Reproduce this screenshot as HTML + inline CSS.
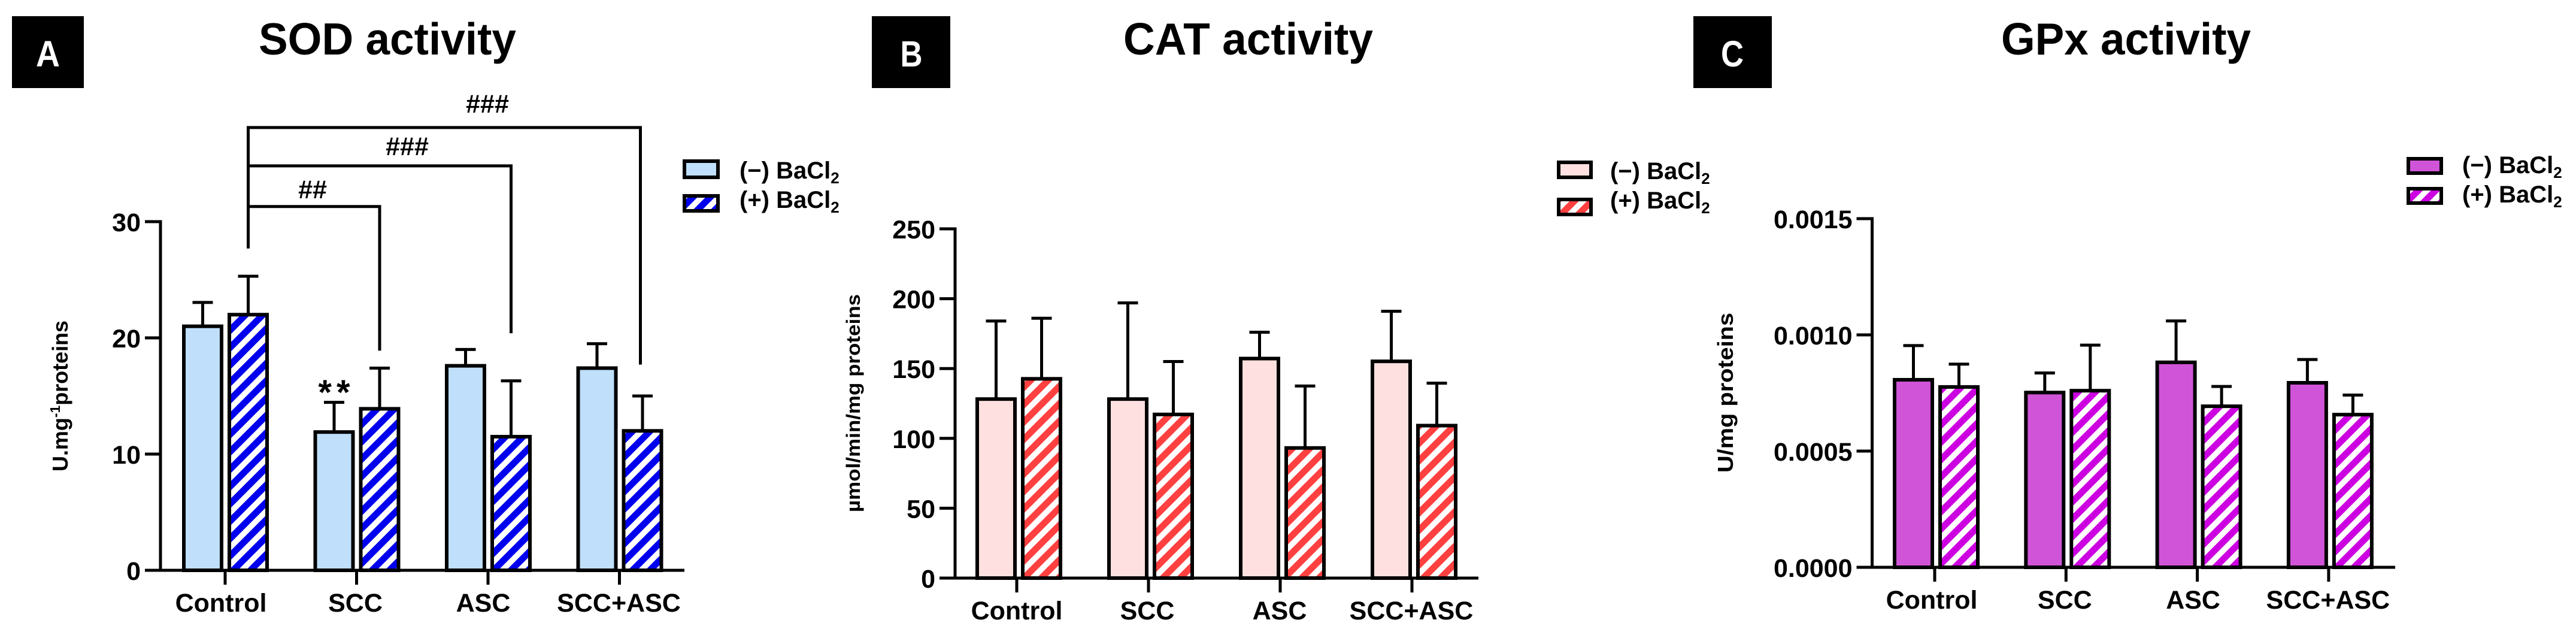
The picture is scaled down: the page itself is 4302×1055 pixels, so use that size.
<!DOCTYPE html>
<html lang="en">
<head>
<meta charset="utf-8">
<title>SOD, CAT and GPx activity</title>
<style>
html,body{margin:0;padding:0;background:#fff;}
svg{display:block;}
text{font-family:"Liberation Sans",Arial,sans-serif;font-weight:700;fill:#000;}
</style>
</head>
<body>
<svg id="figure" xmlns="http://www.w3.org/2000/svg" width="4302" height="1055" viewBox="0 0 4302 1055">
  <defs>
    <pattern id="hatch-blue" patternUnits="userSpaceOnUse" width="20.5" height="20.5" patternTransform="rotate(45)">
      <rect width="20.5" height="20.5" fill="#fff"/><rect width="11" height="20.5" fill="#0000EE"/>
    </pattern>
    <pattern id="hatch-red" patternUnits="userSpaceOnUse" width="20.5" height="20.5" patternTransform="rotate(45)">
      <rect width="20.5" height="20.5" fill="#fff"/><rect width="11" height="20.5" fill="#FF4040"/>
    </pattern>
    <pattern id="hatch-purple" patternUnits="userSpaceOnUse" width="20.5" height="20.5" patternTransform="rotate(45)">
      <rect width="20.5" height="20.5" fill="#fff"/><rect width="11" height="20.5" fill="#CC00E0"/>
    </pattern>
  </defs>

  <rect x="20" y="27" width="120" height="120" fill="#000"/>
  <text x="80" y="111" font-size="61" text-anchor="middle" style="fill:#fff" textLength="40" lengthAdjust="spacingAndGlyphs">A</text>
  <text x="432" y="91" font-size="75" textLength="430" lengthAdjust="spacingAndGlyphs">SOD activity</text>
  <text transform="translate(113,787) rotate(-90)" font-size="36" textLength="252" lengthAdjust="spacingAndGlyphs">U.mg<tspan font-size="23" dy="-13">-1</tspan><tspan dy="13">proteins</tspan></text>

  <rect x="1456" y="27" width="131" height="120" fill="#000"/>
  <text x="1522" y="111" font-size="61" text-anchor="middle" style="fill:#fff" textLength="37" lengthAdjust="spacingAndGlyphs">B</text>
  <text x="1876" y="91" font-size="75" textLength="417" lengthAdjust="spacingAndGlyphs">CAT activity</text>
  <text transform="translate(1436,855) rotate(-90)" font-size="32" textLength="364" lengthAdjust="spacingAndGlyphs">µmol/min/mg proteins</text>

  <rect x="2828" y="27" width="131" height="120" fill="#000"/>
  <text x="2893" y="111" font-size="61" text-anchor="middle" style="fill:#fff" textLength="38" lengthAdjust="spacingAndGlyphs">C</text>
  <text x="3342" y="91" font-size="75" textLength="417" lengthAdjust="spacingAndGlyphs">GPx activity</text>
  <text transform="translate(2894,789) rotate(-90)" font-size="36" textLength="267" lengthAdjust="spacingAndGlyphs">U/mg proteins</text>

  <g>
    <rect x="1143" y="269" width="56" height="27" fill="#BFDFFA" stroke="#000" stroke-width="6"/>
    <rect x="1143" y="327" width="56" height="25" fill="url(#hatch-blue)" stroke="#000" stroke-width="6"/>
    <text x="1235" y="298" font-size="40">(−) BaCl<tspan font-size="26" dy="8">2</tspan></text>
    <text x="1235" y="347" font-size="40">(+) BaCl<tspan font-size="26" dy="8">2</tspan></text>
  </g>
  <g>
    <rect x="2603" y="271" width="54" height="25" fill="#FFE0E0" stroke="#000" stroke-width="6"/>
    <rect x="2603" y="333" width="54" height="25" fill="url(#hatch-red)" stroke="#000" stroke-width="6"/>
    <text x="2689" y="299" font-size="40">(−) BaCl<tspan font-size="26" dy="8">2</tspan></text>
    <text x="2689" y="348" font-size="40">(+) BaCl<tspan font-size="26" dy="8">2</tspan></text>
  </g>
  <g>
    <rect x="4022" y="265" width="55" height="24" fill="#D054D8" stroke="#000" stroke-width="6"/>
    <rect x="4022" y="315" width="55" height="24" fill="url(#hatch-purple)" stroke="#000" stroke-width="6"/>
    <text x="4112" y="289" font-size="40">(−) BaCl<tspan font-size="26" dy="8">2</tspan></text>
    <text x="4112" y="338" font-size="40">(+) BaCl<tspan font-size="26" dy="8">2</tspan></text>
  </g>
</svg>
<script>
const categories = ['Control', 'SCC', 'ASC', 'SCC+ASC'];

const sodMinus = [21.1, 12.0, 17.7, 17.5];
const sodPlus = [22.1, 14.0, 11.6, 12.1];
const sodMinusErrTop = [23.05, 14.45, 19.0, 19.5];
const sodPlusErrTop = [25.3, 17.4, 16.3, 15.0];
const sodTicks = [0, 10, 20, 30];
const sodTickLabels = ['0', '10', '20', '30'];

const catMinus = [129, 129, 158, 156];
const catPlus = [143.5, 118, 94, 110];
const catMinusErrTop = [184, 197, 176, 191];
const catPlusErrTop = [186, 155, 137.5, 139.5];
const catTicks = [0, 50, 100, 150, 200, 250];
const catTickLabels = ['0', '50', '100', '150', '200', '250'];

const gpxMinus = [0.000812, 0.000757, 0.000887, 0.000799];
const gpxPlus = [0.000781, 0.000765, 0.000698, 0.000662];
const gpxMinusErrTop = [0.000954, 0.000836, 0.00106, 0.000894];
const gpxPlusErrTop = [0.000874, 0.000956, 0.000778, 0.000741];
const gpxTicks = [0, 0.0005, 0.001, 0.0015];
const gpxTickLabels = ['0.0000', '0.0005', '0.0010', '0.0015'];

const sodBracketTargets = [1, 2, 3];
const sodBracketLabels = ['##', '###', '###'];
const sodBracketLevels = [31.3, 34.8, 38.1];
const sodBracketEnds = [18.9, 20.4, 17.7];

const NS = 'http://www.w3.org/2000/svg';
const svg = document.getElementById('figure');

function make(tag, attrs, parent) {
  const el = document.createElementNS(NS, tag);
  for (const k in attrs) el.setAttribute(k, attrs[k]);
  parent.appendChild(el);
  return el;
}

function drawPanel(p) {
  const g = make('g', {}, svg);
  
  
  const yScale = v => p.base - v * (p.base - p.top) / p.max;
  p.yScale = yScale;

  categories.forEach((cat, i) => {
    const slug = cat.toLowerCase().replace('+', '-');
    const left = p.firstBar + i * p.pitch;
    [[p.minus, p.minusErr, p.light, 'minus', 0], [p.plus, p.plusErr, p.hatch, 'plus', p.barW + p.gap]].forEach(s => {
      const values = s[0], errs = s[1], fill = s[2], series = s[3], off = s[4];
      const x = left + off;
      const cx = x + p.barW / 2;
      const top = yScale(values[i]);
      const stem = make('line', { x1: cx, x2: cx, y1: top, y2: yScale(errs[i]), stroke: '#000', 'stroke-width': 5 }, g);
      
      
      const cap = make('line', { x1: cx - 17, x2: cx + 17, y1: yScale(errs[i]), y2: yScale(errs[i]), stroke: '#000', 'stroke-width': 5 }, g);
      
      
      const bar = make('rect', { x: x + 3, y: top + 2, width: p.barW - 6, height: Math.max(0, p.base - top - 2), fill: fill, stroke: '#000', 'stroke-width': 6 }, g);
      
      
    });
    const tx = p.firstTick + i * p.pitch;
    const tick = make('line', { x1: tx, x2: tx, y1: p.base, y2: p.base + 24, stroke: '#000', 'stroke-width': 5 }, g);
    
    
    const label = make('text', { x: tx + p.labelNudge[i], y: p.base + 69, 'font-size': 43, 'text-anchor': 'middle' }, g);
    
    
    label.textContent = cat;
  });

  const yAxis = make('line', { x1: p.axisX, x2: p.axisX, y1: p.top - 2.5, y2: p.base + 2.5, stroke: '#000', 'stroke-width': 5 }, g);
  
  
  const xAxis = make('line', { x1: p.axisX - 26, x2: p.axisRight, y1: p.base, y2: p.base, stroke: '#000', 'stroke-width': 5 }, g);
  
  

  p.ticks.forEach((v, i) => {
    const y = yScale(v);
    const t = make('line', { x1: p.axisX - 26, x2: p.axisX, y1: y, y2: y, stroke: '#000', 'stroke-width': 5 }, g);
    
    
    const l = make('text', { x: p.axisX - 33, y: y + 16, 'font-size': 43, 'text-anchor': 'end' }, g);
    
    
    l.textContent = p.tickLabels[i];
  });
  return g;
}

const sodPanel = { id: 'panel-a', minus: sodMinus, plus: sodPlus, minusErr: sodMinusErrTop, plusErr: sodPlusErrTop,
  ticks: sodTicks, tickLabels: sodTickLabels, max: 30, base: 952, top: 370, axisX: 268, axisRight: 1143,
  firstBar: 304, firstTick: 376, pitch: 219.5, barW: 69, gap: 7, labelNudge: [-7, -2, -8, -1],
  light: '#BFDFFA', hatch: 'url(#hatch-blue)' };
const catPanel = { id: 'panel-b', minus: catMinus, plus: catPlus, minusErr: catMinusErrTop, plusErr: catPlusErrTop,
  ticks: catTicks, tickLabels: catTickLabels, max: 250, base: 965, top: 382, axisX: 1595, axisRight: 2469,
  firstBar: 1629, firstTick: 1698, pitch: 220, barW: 69, gap: 7, labelNudge: [0, -2, -1, -1],
  light: '#FFE0E0', hatch: 'url(#hatch-red)' };
const gpxPanel = { id: 'panel-c', minus: gpxMinus, plus: gpxPlus, minusErr: gpxMinusErrTop, plusErr: gpxPlusErrTop,
  ticks: gpxTicks, tickLabels: gpxTickLabels, max: 0.0015, base: 947, top: 365, axisX: 3126.5, axisRight: 4000,
  firstBar: 3161, firstTick: 3231, pitch: 219.3, barW: 69, gap: 7, labelNudge: [-5, -2, -7, -1],
  light: '#D054D8', hatch: 'url(#hatch-purple)' };

const sodGroup = drawPanel(sodPanel);
drawPanel(catPanel);
drawPanel(gpxPanel);

/* SOD significance annotations */
const plusCenter = i => sodPanel.firstBar + i * sodPanel.pitch + sodPanel.barW + sodPanel.gap + sodPanel.barW / 2;
const bracketNudge = [0, 0, -3.5];
const bracketLabelX = [522, 680, 814];
const bracketLabelGap = [14, 18, 25];
const ySod = sodPanel.yScale;
sodBracketTargets.forEach((target, i) => {
  const x0 = plusCenter(0);
  const x1 = plusCenter(target) + bracketNudge[i];
  const yTop = ySod(sodBracketLevels[i]);
  const path = make('polyline', { points: x0 + ',' + ySod(27.7) + ' ' + x0 + ',' + yTop + ' ' + x1 + ',' + yTop + ' ' + x1 + ',' + ySod(sodBracketEnds[i]), fill: 'none', stroke: '#000', 'stroke-width': 5, 'stroke-linejoin': 'miter' }, sodGroup);
  
  
  const mark = make('text', { x: bracketLabelX[i], y: yTop - bracketLabelGap[i], 'font-size': 43, 'text-anchor': 'middle' }, sodGroup);
  
  
  mark.textContent = sodBracketLabels[i];
});
const stars = make('text', { x: 562, y: 675, 'font-size': 58, 'text-anchor': 'middle', 'letter-spacing': 8 }, sodGroup);


stars.textContent = '**';
</script>
</body>
</html>
